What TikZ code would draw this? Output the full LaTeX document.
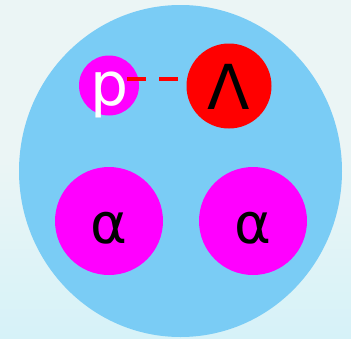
\documentclass[tikz,border=0pt]{standalone}
\usepackage{fontspec}
\newfontfamily\dejavu{DejaVu Sans}
\definecolor{bgtop}{HTML}{EBF5F5}
\definecolor{bgmid}{HTML}{E2F5F7}
\definecolor{bgbot}{HTML}{D6F2F8}
\definecolor{nuc}{HTML}{7ACCF5}
\definecolor{mag}{HTML}{FF00FF}
\definecolor{lam}{HTML}{FF0000}
\tikzset{
  ball/.style={circle, inner sep=0pt, draw=none, fill=#1},
  lbl/.style={anchor=base, inner sep=0pt, font=\dejavu\fontsize{#1}{#1}\selectfont},
  bond/.style={draw=lam, line width=4.5pt, dash pattern=on 19pt off 13pt}
}
\begin{document}
\begin{tikzpicture}[x=1pt,y=-1pt]
\fill[bgtop] (0,0) rectangle (351,160);
\shade[top color=bgtop, middle color=bgmid, bottom color=bgbot] (0,160) rectangle (351,338);
\useasboundingbox (0,0) rectangle (351,338);
\fill[nuc] (180.5,171) ellipse [x radius=161.5, y radius=166];
\node[ball=mag, minimum size=60pt] (p) at (109,85.5) {};
\node[ball=lam, minimum size=85pt] (L) at (229,86) {};
\node[ball=mag, minimum size=108pt] (a1) at (109,221) {};
\node[ball=mag, minimum size=108pt] (a2) at (253,221) {};
\coordinate (b1) at (127,79);
\coordinate (b2) at (178,79);
\draw[bond] (b1) -- (b2);
\node[lbl=60, text=white] (tp) at (110,105) {p};
\node[lbl=62, text=black] (tL) at (229,109) {Λ};
\node[lbl=56, text=black] (ta1) at (108.5,243) {α};
\node[lbl=56, text=black] (ta2) at (252.5,243) {α};
\end{tikzpicture}
\end{document}
